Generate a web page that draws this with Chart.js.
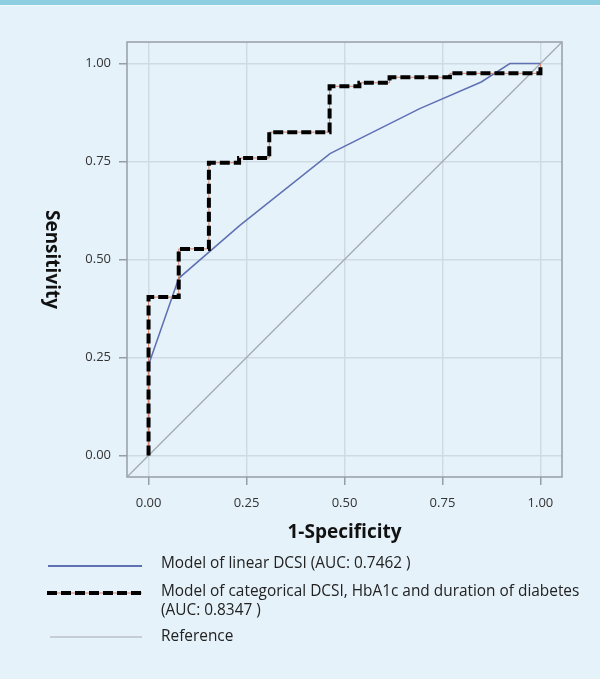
<!DOCTYPE html>
<html>
<head>
<meta charset="utf-8">
<script src="https://cdn.jsdelivr.net/npm/chart.js@4"></script>
<style>
    html, body { margin: 0; padding: 0; background: #e5f2f9; }
    #wrap { position: relative; width: 600px; height: 679px; }
</style>
</head>
<body>
<div id="wrap"><canvas id="rocChart"></canvas></div>
<script>
// ROC data
const tickValues = [0, 0.25, 0.5, 0.75, 1];
const axisMin = -0.055;
const axisMax = 1.055;

// Model of linear DCSI
const linearFpr = [0, 0, 0.077, 0.233, 0.463, 0.692, 0.849, 0.922, 1];
const linearTpr = [0, 0.231, 0.452, 0.587, 0.770, 0.885, 0.953, 1, 1];

// Model of categorical DCSI, HbA1c and duration (step curve)
const catFpr = [0, 0, 0.077, 0.154, 0.231, 0.308, 0.462, 0.538, 0.615, 0.769, 1];
const catTpr = [0, 0.404, 0.527, 0.747, 0.759, 0.825, 0.942, 0.951, 0.965, 0.975, 1];

// Reference diagonal
const refFpr = [axisMin, axisMax];
const refTpr = [axisMin, axisMax];

const legendLabels = [
    ['Model of linear DCSI (AUC: 0.7462 )'],
    ['Model of categorical DCSI, HbA1c and duration of diabetes', '(AUC: 0.8347 )'],
    ['Reference']
];

const toPoints = (xs, ys) => xs.map((x, i) => ({ x: x, y: ys[i] }));

const BLUE = '#5f70b3';
const REF_GRAY = '#a4a9ad';
const FRAME = '#969ea5';
const GRID = '#cfdbe3';

// Background, frame and hand drawn texts
const decorPlugin = {
    id: 'decor',
    beforeDraw(chart) {
        const ctx = chart.ctx;
        ctx.save();
        ctx.fillStyle = '#e5f2f9';
        ctx.fillRect(0, 0, chart.width, chart.height);
        ctx.fillStyle = '#8dcfe1';
        ctx.fillRect(0, 0, chart.width, 5);
        ctx.fillStyle = '#f2f9fc';
        ctx.fillRect(0, 5, chart.width, 1);
        ctx.restore();
    },
    beforeDatasetsDraw(chart) {
        const { ctx, chartArea } = chart;
        ctx.save();
        ctx.strokeStyle = FRAME;
        ctx.lineWidth = 1.5;
        ctx.strokeRect(chartArea.left, chartArea.top, chartArea.right - chartArea.left, chartArea.bottom - chartArea.top);
        ctx.restore();
    },
    afterDraw(chart) {
        const { ctx, chartArea } = chart;
        const xScale = chart.scales.x;
        ctx.save();
        ctx.fillStyle = '#111';
        ctx.font = 'bold 19px "Open Sans"';
        ctx.textAlign = 'center';
        ctx.textBaseline = 'middle';
        ctx.fillText('1-Specificity', xScale.getPixelForValue(0.5), 533);

        // y title reads top to bottom
        ctx.translate(51, (chartArea.top + chartArea.bottom) / 2);
        ctx.rotate(Math.PI / 2);
        ctx.fillText('Sensitivity', 0, 0);
        ctx.restore();

        // legend
        ctx.save();
        const x0 = 47, x1 = 142, tx = 161;
        const rows = [564, 592, 637];
        ctx.font = '15.4px "Open Sans"';
        ctx.fillStyle = '#222';
        ctx.textAlign = 'left';
        ctx.textBaseline = 'middle';
        legendLabels.forEach((lines, i) => {
            lines.forEach((t, j) => ctx.fillText(t, tx, rows[i] + j * 19));
        });

        ctx.beginPath();
        ctx.strokeStyle = BLUE;
        ctx.lineWidth = 2;
        ctx.moveTo(x0 + 1, rows[0] + 2); ctx.lineTo(x1, rows[0] + 2);
        ctx.stroke();

        ctx.beginPath();
        ctx.strokeStyle = '#d9806a';
        ctx.lineWidth = 1;
        ctx.moveTo(x0, rows[1] + 1); ctx.lineTo(x1, rows[1] + 1);
        ctx.stroke();
        ctx.beginPath();
        ctx.setLineDash([10, 4]);
        ctx.strokeStyle = '#000';
        ctx.lineWidth = 4;
        ctx.moveTo(x0, rows[1] + 1); ctx.lineTo(x1, rows[1] + 1);
        ctx.stroke();
        ctx.setLineDash([]);

        ctx.beginPath();
        ctx.strokeStyle = REF_GRAY;
        ctx.lineWidth = 1;
        ctx.moveTo(x0 + 3, rows[2]); ctx.lineTo(x1, rows[2]);
        ctx.stroke();
        ctx.restore();
    }
};

function axisOptions(isX) {
    return {
        type: 'linear',
        min: axisMin,
        max: axisMax,
        afterBuildTicks(scale) {
            scale.ticks = tickValues.map(v => ({ value: v }));
        },
        afterFit(scale) {
            if (isX) scale.height = 40;
            else scale.width = 127;
        },
        ticks: {
            color: '#333',
            font: { family: '"Open Sans"', size: 13 },
            padding: isX ? 10 : 8,
            callback: v => v.toFixed(2)
        },
        grid: {
            color: GRID,
            lineWidth: 1.5,
            tickColor: FRAME,
            tickLength: 8
        },
        border: { display: false }
    };
}

new Chart(document.getElementById('rocChart'), {
    type: 'line',
    data: {
        datasets: [
            {
                label: 'Categorical',
                data: toPoints(catFpr, catTpr),
                stepped: 'before',
                borderColor: '#000',
                borderWidth: 4,
                borderDash: [10, 4],
                pointRadius: 0,
                fill: false
            },
            {
                label: 'Categorical inner',
                data: toPoints(catFpr, catTpr),
                stepped: 'before',
                borderColor: '#d9806a',
                borderWidth: 1,
                pointRadius: 0,
                fill: false
            },
            {
                label: 'Linear',
                data: toPoints(linearFpr, linearTpr),
                borderColor: BLUE,
                borderWidth: 1.5,
                pointRadius: 0,
                tension: 0,
                fill: false
            },
            {
                label: 'Reference',
                data: toPoints(refFpr, refTpr),
                borderColor: REF_GRAY,
                borderWidth: 1.2,
                pointRadius: 0,
                fill: false
            }
        ]
    },
    options: {
        responsive: true,
        maintainAspectRatio: false,
        animation: false,
        clip: false,
        layout: { padding: { left: 0, top: 42, right: 38, bottom: 162 } },
        plugins: {
            legend: { display: false },
            tooltip: { enabled: false }
        },
        scales: {
            x: axisOptions(true),
            y: axisOptions(false)
        }
    },
    plugins: [decorPlugin]
});
</script>
</body>
</html>
